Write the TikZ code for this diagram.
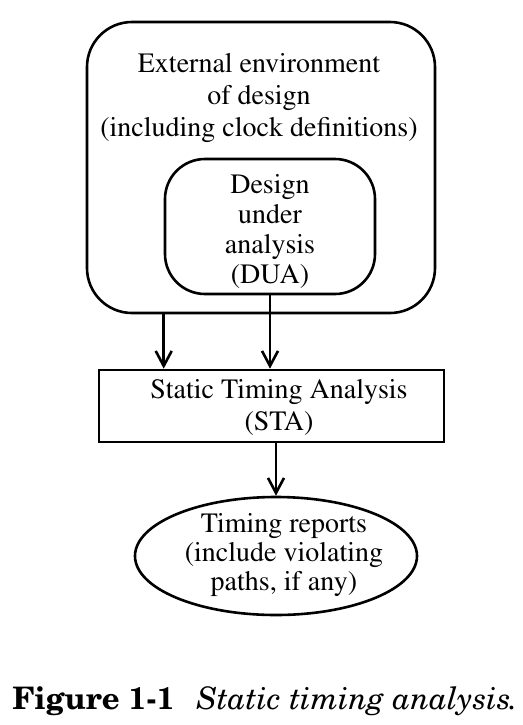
\documentclass[tikz,border=0pt]{standalone}
\usepackage[T1]{fontenc}
\usetikzlibrary{arrows.meta,shapes.geometric}

\begin{document}
\begin{tikzpicture}
    [
      x = 0.5pt, y = -0.5pt,
      every node/.style = {font=\fontsize{14}{16}\fontfamily{ptm}\selectfont, align=center},
      roundbox/.style = {draw, line width=1.3pt, inner sep=0pt},
      flow/.style = {-{Straight Barb[length=7.5pt,width=8pt]}, line width=1.3pt},
    ]
    \useasboundingbox (0,0) rectangle (523,725);

    % boxes
    \node[roundbox, rounded corners=22.5pt, minimum width=174pt, minimum height=145.5pt] (env) at (261,167.5) {};
    \node[roundbox, rounded corners=20pt, minimum width=105pt, minimum height=67.5pt] (dua) at (270,226.5) {};
    \node[roundbox, minimum width=172.5pt, minimum height=36pt] (sta) at (271.5,406) {};
    \node[roundbox, ellipse, minimum width=141pt, minimum height=59pt] (report) at (276,556) {};

    % texts
    \node (envtext) at (259,98.5) {External environment\\of design\\(including clock definitions)};
    \node[font=\fontsize{14}{15}\fontfamily{ptm}\selectfont] (duatext) at (270,231.5) {Design\\under\\analysis\\(DUA)};
    \node (statext) at (279,408) {Static Timing Analysis\\(STA)};
    \node[font=\fontsize{14}{14.5}\fontfamily{ptm}\selectfont] (reporttext) at (284,555.5) {Timing reports\\(include violating\\paths, if any)};

    % arrows
    \draw[flow] (dua.west |- env.south) -- (dua.west |- sta.north);
    \draw[flow] (dua.south) -- (dua.south |- sta.north);
    \draw[flow] (report.north |- sta.south) -- (report.north);

    \node[anchor=base west, inner sep=0pt, font=\fontsize{15.5}{17}\fontfamily{pnc}\selectfont] (caption) at (12,709)
      {\textbf{Figure 1-1}\hspace{11pt}\textit{Static timing analysis.}};
  \end{tikzpicture}
\end{document}
